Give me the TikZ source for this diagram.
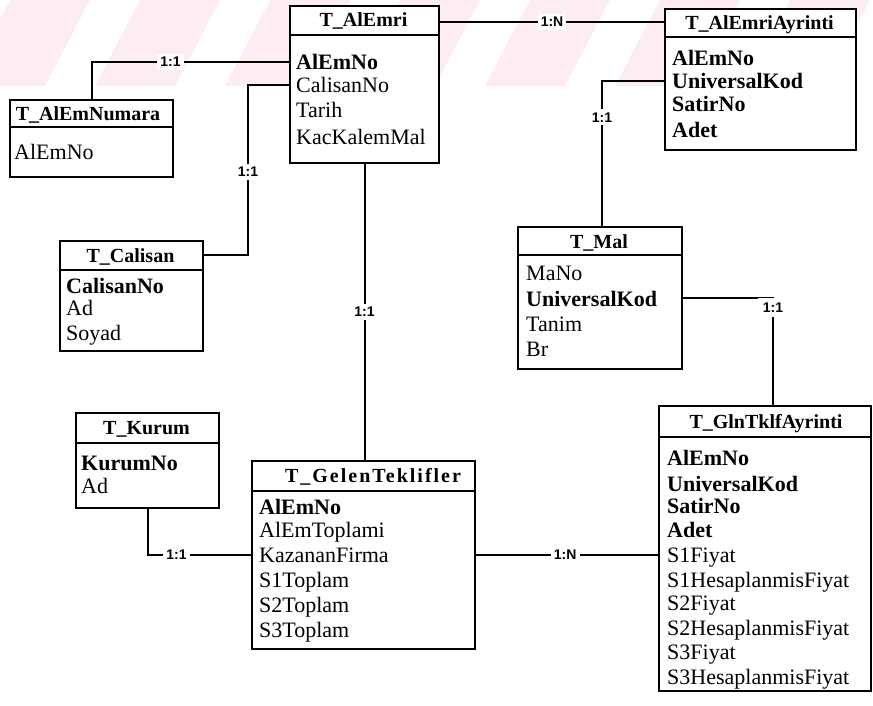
\documentclass[tikz,border=0pt]{standalone}
\usepackage{fontspec}
\setmainfont{Liberation Serif}
\newfontfamily\cardfont{Liberation Sans}
\definecolor{wmpink}{RGB}{253,237,240}
\begin{document}
\begin{tikzpicture}[x=1pt,y=-1pt,
  tbl/.style={draw, line width=2.1pt, fill=white, anchor=north west, inner sep=0pt},
  hsep/.style={line width=1.6pt},
  hdr/.style={font=\fontsize{20}{24}\selectfont\bfseries, inner sep=0pt, text height=14pt, text depth=0pt, anchor=center},
  fld/.style={font=\fontsize{22}{24}\selectfont, inner sep=0pt, text height=14.5pt, text depth=0pt, anchor=west},
  pkey/.style={fld, font=\fontsize{22}{24}\selectfont\bfseries},
  rel/.style={line width=2.1pt},
  card/.style={font=\cardfont\bfseries\fontsize{14}{16}\selectfont, fill=white, inner sep=3pt},
]
\useasboundingbox (0,0) rectangle (873,706);

% faint striped band along the top
\begin{scope}
  \clip (0,0) rectangle (873,86);
  \foreach \s in {-120,10,...,1000}
    \fill[wmpink] (\s,0) -- ++(80,0) -- ++(-45,86) -- ++(-80,0) -- cycle;
\end{scope}

% ---------- T_AlEmri ----------
\node[tbl, minimum width=149pt, minimum height=157pt] (alemri) at (289,5) {};
\draw[hsep] (alemri.north west) ++(0,30) -- ++(149,0);
\node[hdr] (alemri-h) at (363.5,20) {T\_AlEmri};
\node[pkey] (alemri-1) at (296,62) {AlEmNo};
\node[fld]  (alemri-2) at (296,85) {CalisanNo};
\node[fld]  (alemri-3) at (296,110) {Tarih};
\node[fld]  (alemri-4) at (296,137) {KacKalemMal};

% ---------- T_AlEmNumara ----------
\node[tbl, minimum width=163pt, minimum height=77pt] (alemnumara) at (9,99) {};
\draw[hsep] (alemnumara.north west) ++(0,28) -- ++(163,0);
\node[hdr] (alemnumara-h) at (88,114) {T\_AlEmNumara};
\node[fld] (alemnumara-1) at (14,152) {AlEmNo};

% ---------- T_Calisan ----------
\node[tbl, minimum width=143pt, minimum height=110pt] (calisan) at (59,240) {};
\draw[hsep] (calisan.north west) ++(0,30) -- ++(143,0);
\node[hdr] (calisan-h) at (130.5,255) {T\_Calisan};
\node[pkey] (calisan-1) at (66,286) {CalisanNo};
\node[fld]  (calisan-2) at (66,308) {Ad};
\node[fld]  (calisan-3) at (66,333) {Soyad};

% ---------- T_AlEmriAyrinti ----------
\node[tbl, minimum width=191pt, minimum height=141pt] (ayrinti) at (664,8) {};
\draw[hsep] (ayrinti.north west) ++(0,29) -- ++(191,0);
\node[hdr] (ayrinti-h) at (759.5,22.5) {T\_AlEmriAyrinti};
\node[pkey] (ayrinti-1) at (672,58) {AlEmNo};
\node[pkey] (ayrinti-2) at (672,81) {UniversalKod};
\node[pkey] (ayrinti-3) at (672,104) {SatirNo};
\node[pkey] (ayrinti-4) at (672,130) {Adet};

% ---------- T_Mal ----------
\node[tbl, minimum width=164pt, minimum height=142pt] (mal) at (517,226) {};
\draw[hsep] (mal.north west) ++(0,29) -- ++(164,0);
\node[hdr] (mal-h) at (599,241) {T\_Mal};
\node[fld]  (mal-1) at (526,273) {MaNo};
\node[pkey] (mal-2) at (526,299) {UniversalKod};
\node[fld]  (mal-3) at (526,324) {Tanim};
\node[fld]  (mal-4) at (526,349) {Br};

% ---------- T_Kurum ----------
\node[tbl, minimum width=143pt, minimum height=95pt] (kurum) at (75,412) {};
\draw[hsep] (kurum.north west) ++(0,31) -- ++(143,0);
\node[hdr] (kurum-h) at (146.5,427.5) {T\_Kurum};
\node[pkey] (kurum-1) at (81,463) {KurumNo};
\node[fld]  (kurum-2) at (81,486) {Ad};

% ---------- T_GelenTeklifler ----------
\node[tbl, minimum width=223pt, minimum height=188pt] (gelen) at (251,460) {};
\draw[hsep] (gelen.north west) ++(0,31) -- ++(223,0);
\node[hdr] (gelen-h) at (373,475.5) {\addfontfeature{LetterSpace=10}T\_GelenTeklifler};
\node[pkey] (gelen-1) at (259,507) {AlEmNo};
\node[fld]  (gelen-2) at (259,530) {AlEmToplami};
\node[fld]  (gelen-3) at (259,555) {KazananFirma};
\node[fld]  (gelen-4) at (259,580) {S1Toplam};
\node[fld]  (gelen-5) at (259,605) {S2Toplam};
\node[fld]  (gelen-6) at (259,630) {S3Toplam};

% ---------- T_GlnTklfAyrinti ----------
\node[tbl, minimum width=212pt, minimum height=285pt] (glntklf) at (658,405) {};
\draw[hsep] (glntklf.north west) ++(0,32) -- ++(212,0);
\node[hdr] (glntklf-h) at (766,421) {T\_GlnTklfAyrinti};
\node[pkey] (glntklf-1) at (667,458) {AlEmNo};
\node[pkey] (glntklf-2) at (667,484) {UniversalKod};
\node[pkey] (glntklf-3) at (667,506) {SatirNo};
\node[pkey] (glntklf-4) at (667,530) {Adet};
\node[fld]  (glntklf-5) at (667,555) {S1Fiyat};
\node[fld]  (glntklf-6) at (667,580) {S1HesaplanmisFiyat};
\node[fld]  (glntklf-7) at (667,603) {S2Fiyat};
\node[fld]  (glntklf-8) at (667,628) {S2HesaplanmisFiyat};
\node[fld]  (glntklf-9) at (667,652) {S3Fiyat};
\node[fld]  (glntklf-10) at (667,677) {S3HesaplanmisFiyat};

% ---------- relationships ----------
\draw[rel] (alemnumara.north) |- node[card, pos=0.70] {1:1} (alemri.west |- alemri-1);

\coordinate (cb1) at (248,85);
\coordinate (cb2) at (248,255);
\draw[rel] (alemri.west |- alemri-2) -- (cb1)
  -- node[card, pos=0.51] {1:1} (cb2) -- (calisan.east |- calisan-h);

\draw[rel] (alemri.south) -- node[card, pos=0.5] {1:1} (alemri.south |- gelen.north);

\draw[rel] (alemri.east |- 0,22) -- node[card, pos=0.5] {1:N} (ayrinti.west |- 0,22);

\coordinate (mb1) at (602,81);
\draw[rel] (ayrinti.west |- ayrinti-2) -- (mb1)
  -- node[card, pos=0.25] {1:1} (mb1 |- mal.north);

\coordinate (gb1) at (773,298);
\draw[rel] (mal.east |- gb1) -- (gb1)
  -- node[card, pos=0.09, inner sep=5pt] {1:1} (gb1 |- glntklf.north);

\draw[rel] (kurum.south) |- node[card, pos=0.64] {1:1} (gelen.west |- gelen-3);

\draw[rel] (gelen.east |- gelen-3) -- node[card, pos=0.49] {1:N} (glntklf.west |- gelen-3);

\end{tikzpicture}
\end{document}
